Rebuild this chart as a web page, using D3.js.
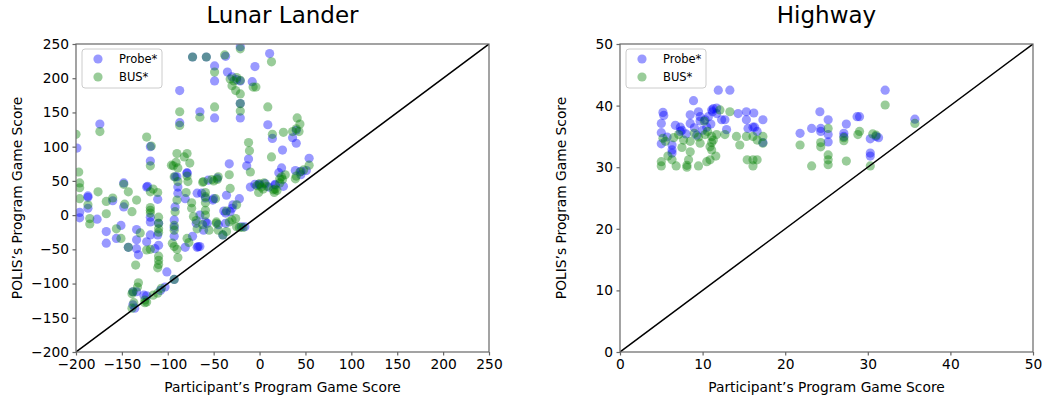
<!DOCTYPE html>
<html>
<head>
<meta charset="utf-8">
<script src="https://cdn.jsdelivr.net/npm/d3@7"></script>
<style>
  body { margin: 0; background: #fff; }
  text { font-family: "DejaVu Sans", sans-serif; fill: #000; }
</style>
</head>
<body>
<svg id="chart" width="1043" height="400"></svg>
<script>
// Lunar Lander: [participant score, POLIS score]
var lunarProbe = [
  [-199, 98], [-174, 133], [-87, 182], [-87, 135], [-65, 151], [-73, 231], [-58, 231], [-49, 218],
  [-49, 196], [-49, 142], [-37, 232], [-21, 246], [-35, 209], [-30, 202], [-25, 198], [-21, 196],
  [-8, 195], [-5, 217], [11, 236], [-21, 163], [-21, 142], [9, 132], [14, 112], [-119, 100],
  [-119, 79], [-79, 62], [-12, 82], [-14, 72], [-33, 75], [-56, 51], [-148, 47], [-187, 28],
  [-123, 41], [-92, 56], [-68, 32], [-1, 45], [10, 41], [17, 44], [-10, 41], [25, 95],
  [40, 124], [36, 113], [40, 105], [54, 83], [24, 69], [21, 62], [26, 42], [17, 45],
  [39, 65], [45, 64], [51, 65], [45, 59], [6, 46], [0, 44], [-196, 4], [-196, -4],
  [-187, 26], [-187, 10], [-177, -6], [-167, -24], [-167, -41], [-160, 21], [-151, -15], [-156, -34],
  [-148, 12], [-134, -21], [-134, -36], [-143, -47], [-134, -49], [-132, -58], [-122, 42], [-111, 23],
  [-119, -3], [-119, -10], [-110, -12], [-111, -29], [-119, -29], [-110, -44], [-123, -39], [-114, -49],
  [-101, -83], [-93, -94], [-138, -112], [-134, -112], [-138, -131], [-136, -136], [-126, -117], [-123, -118],
  [-103, -105], [-108, -110], [-90, 56], [-89, 41], [-89, 32], [-92, 12], [-93, -7], [-93, -18],
  [-93, -31], [-81, -47], [-68, -47], [-67, -46], [-79, 61], [-81, 24], [-69, -12], [-73, -31],
  [-59, -10], [-61, -22], [-59, 25], [-46, 54], [-50, 24], [-45, -14], [-39, 6], [-37, 3],
  [-40, -29], [-29, 15], [-36, 29], [-37, -12], [-32, 5], [-30, 10], [-22, 24], [-5, 45],
  [-20, -17], [-65, -46], [-63, 32], [-65, 0], [-51, 22], [-57, -12], [-16, -17]
];
var lunarBus = [
  [-200, 118], [-174, 122], [-87, 151], [-87, 131], [-65, 143], [-73, 231], [-58, 231], [-49, 209],
  [-49, 158], [-38, 234], [-21, 243], [-32, 199], [-28, 196], [-25, 201], [-21, 197], [-30, 189],
  [-26, 182], [-21, 177], [-7, 187], [-4, 187], [-21, 163], [-21, 152], [9, 158], [13, 224],
  [14, 118], [26, 121], [13, 85], [-123, 114], [-118, 101], [-90, 90], [-79, 90], [-82, 85],
  [-119, 72], [-94, 72], [-89, 69], [-76, 76], [-12, 106], [-11, 94], [-33, 59], [-62, 48],
  [-45, 56], [-52, 52], [-148, 45], [-143, 34], [-197, 63], [-196, 40], [-176, 34], [-160, 25],
  [-196, 47], [-196, 24], [-185, -5], [-185, -13], [-187, 15], [-167, 2], [-167, 20], [-156, -20],
  [-151, -34], [-147, 16], [-139, 5], [-134, 22], [-130, -26], [-143, -47], [-135, -73], [-119, 34],
  [-116, 38], [-111, 33], [-119, 11], [-119, 7], [-119, 3], [-110, -3], [-110, -12], [-110, -20],
  [-110, -25], [-123, -51], [-119, -50], [-110, -60], [-110, -66], [-110, -72], [-111, -77], [-93, -94],
  [-132, -99], [-133, -105], [-138, -112], [-139, -115], [-139, -136], [-137, -128], [-125, -124], [-125, -128],
  [-123, -127], [-116, -117], [-111, -114], [-107, -107], [-96, 73], [-91, 77], [-89, 49], [-93, 56],
  [-90, 22], [-92, 5], [-93, -15], [-93, -22], [-95, -41], [-93, -46], [-90, -50], [-89, -62],
  [-79, -34], [-77, -40], [-79, 57], [-78, 49], [-80, 33], [-74, 18], [-74, 10], [-72, -2],
  [-69, -8], [-68, -20], [-61, 49], [-59, 33], [-59, 27], [-59, 18], [-59, 7], [-59, 0],
  [-62, -14], [-55, -22], [-50, 50], [-46, 52], [-48, 24], [-47, -10], [-36, 6], [-33, -10],
  [-40, -29], [-36, -24], [-30, -7], [-47, -12], [-25, -17], [-22, -18], [-18, -18], [-32, 39],
  [-25, 15], [-26, -5], [-10, 63], [-3, 43], [2, 41], [0, 46], [5, 47], [8, 42],
  [17, 38], [-1, 33], [4, 38], [16, 33], [19, 36], [25, 52], [24, 56], [28, 59],
  [22, 47], [22, 53], [15, 37], [41, 142], [44, 133], [40, 126], [43, 122], [36, 122],
  [39, 53], [44, 63], [48, 66], [54, 73], [40, 57], [-45, -22]
];

// Highway
var highwayProbe = [
  [11.9, 42.5], [13.3, 42.5], [8.9, 40.8], [5.2, 38.9], [5.3, 38.4], [5.0, 37.1], [5.0, 35.6], [5.0, 33.8],
  [6.3, 33.6], [6.3, 32.8], [6.3, 32.3], [6.7, 36.8], [7.3, 36.5], [7.5, 36.0], [7.3, 35.8], [8.5, 37.1],
  [8.5, 38.5], [9.5, 39.0], [9.7, 38.2], [9.7, 37.5], [10.3, 37.7], [10.7, 38.2], [11.1, 39.3], [11.3, 39.5],
  [11.7, 39.6], [11.7, 38.7], [11.2, 39.0], [12.3, 37.7], [12.7, 37.7], [12.9, 36.1], [14.3, 38.7], [15.3, 39.0],
  [15.3, 37.7], [15.5, 36.3], [16.2, 38.8], [16.3, 36.5], [16.1, 36.5], [16.6, 35.8], [17.3, 37.7], [17.3, 34.0],
  [9.0, 36.4], [10.0, 36.0], [8.0, 35.4], [5.7, 34.9], [24.2, 39.0], [23.2, 36.3], [21.8, 35.5], [24.3, 35.8],
  [24.3, 36.3], [25.2, 37.7], [25.2, 35.3], [25.2, 34.1], [27.4, 37.0], [27.1, 35.0], [27.1, 35.5], [28.7, 38.2],
  [29.0, 38.2], [30.3, 34.6], [31.0, 35.0], [31.3, 34.8], [30.3, 32.3], [30.3, 31.8], [32.1, 42.5], [35.7, 37.8],
  [11.0, 37.0], [10.5, 36.5], [9.3, 35.2]
];
var highwayBus = [
  [5.0, 30.2], [5.0, 30.9], [5.2, 34.7], [5.5, 34.2], [6.3, 31.2], [5.8, 31.8], [6.8, 30.2], [8.1, 30.0],
  [8.1, 30.3], [8.3, 31.2], [9.5, 30.2], [10.5, 30.9], [10.9, 31.2], [11.6, 31.8], [15.4, 31.2], [16.1, 31.2],
  [16.1, 30.2], [16.6, 31.2], [7.1, 35.3], [7.7, 34.4], [8.5, 34.2], [9.5, 34.9], [9.7, 33.9], [10.3, 35.3],
  [10.9, 33.3], [11.1, 32.8], [11.1, 34.0], [11.1, 35.0], [11.3, 34.4], [11.7, 35.3], [12.7, 35.3], [14.1, 35.0],
  [14.5, 33.6], [15.3, 35.0], [16.1, 35.0], [16.6, 34.4], [17.3, 35.0], [17.3, 33.9], [13.3, 39.0], [12.1, 39.3],
  [6.5, 34.8], [7.5, 33.2], [8.5, 32.5], [9.0, 35.5], [10.6, 35.8], [21.8, 33.6], [24.3, 33.3], [24.3, 34.0],
  [23.2, 30.2], [25.2, 36.3], [25.2, 32.0], [25.2, 31.2], [25.2, 30.4], [27.1, 34.3], [27.1, 34.8], [27.4, 31.0],
  [28.8, 35.3], [29.0, 35.8], [30.6, 35.4], [31.0, 35.2], [30.3, 30.2], [32.1, 40.1], [35.7, 37.1], [10.2, 37.5]
];

var lunarTicks = [-200, -150, -100, -50, 0, 50, 100, 150, 200, 250];
var highwayTicks = [0, 10, 20, 30, 40, 50];

var svg = d3.select("#chart");
var fmt = function(d) { return d < 0 ? "\u2212" + Math.abs(d) : String(d); };

function drawPanel(opts) {
    var x = d3.scaleLinear().domain(opts.domain).range([opts.left, opts.left + 413]);
    var y = d3.scaleLinear().domain(opts.domain).range([352, 44]);
    var g = svg.append("g");

    g.append("clipPath").attr("id", opts.id)
      .append("rect")
        .attr("x", x.range()[0]).attr("y", 44)
        .attr("width", 413).attr("height", 308);

    var pts = g.append("g").attr("clip-path", "url(#" + opts.id + ")");
    pts.selectAll("circle.probe")
      .data(opts.probe)
      .enter().append("circle")
        .attr("cx", function(d) { return x(d[0]); })
        .attr("cy", function(d) { return y(d[1]); })
        .attr("r", 4.6)
        .style("fill", "blue")
        .style("fill-opacity", 0.4);
    pts.selectAll("circle.bus")
      .data(opts.bus)
      .enter().append("circle")
        .attr("cx", function(d) { return x(d[0]); })
        .attr("cy", function(d) { return y(d[1]); })
        .attr("r", 4.6)
        .style("fill", "green")
        .style("fill-opacity", 0.4);

    // y = x reference line
    pts.append("line")
        .attr("x1", x(opts.domain[0])).attr("y1", y(opts.domain[0]))
        .attr("x2", x(opts.domain[1])).attr("y2", y(opts.domain[1]))
        .style("stroke", "black")
        .style("stroke-width", 1.5);

    // frame
    g.append("rect")
        .attr("x", x.range()[0]).attr("y", 44)
        .attr("width", 413).attr("height", 308)
        .style("fill", "none")
        .style("stroke", "#666")
        .style("stroke-width", 1.2);

    var xAxis = g.append("g").attr("transform", "translate(0,352)")
        .call(d3.axisBottom(x).tickValues(opts.ticks).tickFormat(fmt).tickSize(3.5).tickPadding(3.5));
    var yAxis = g.append("g").attr("transform", "translate(" + opts.left + ",0)")
        .call(d3.axisLeft(y).tickValues(opts.ticks).tickFormat(fmt).tickSize(3.5).tickPadding(3.5));
    [xAxis, yAxis].forEach(function(a) {
        a.select(".domain").remove();
        a.selectAll(".tick line").style("stroke", "#666").style("stroke-width", 1.2);
        a.selectAll(".tick text").style("font-size", "13.8px").style("font-family", "DejaVu Sans").style("fill", "#000");
    });

    g.append("text")
        .attr("x", opts.left + 206.5).attr("y", 23)
        .attr("text-anchor", "middle")
        .style("font-size", "23px")
        .text(opts.title);
    g.append("text")
        .attr("x", opts.left + 206.5).attr("y", 392)
        .attr("text-anchor", "middle")
        .style("font-size", "13.8px")
        .text("Participant\u2019s Program Game Score");
    g.append("text")
        .attr("transform", "translate(" + (opts.left - 54) + ",198) rotate(-90)")
        .attr("text-anchor", "middle")
        .style("font-size", "13.8px")
        .text("POLIS\u2019s Program Game Score");

    // legend
    var lg = g.append("g").attr("transform", "translate(" + (opts.left + 6) + ",49)");
    lg.append("rect")
        .attr("width", 80).attr("height", 39).attr("rx", 3)
        .style("fill", "white").style("fill-opacity", 0.8)
        .style("stroke", "#ccc");
    var items = [["Probe*", "blue"], ["BUS*", "green"]];
    items.forEach(function(it, i) {
        lg.append("circle")
            .attr("cx", 16).attr("cy", 10 + i * 18).attr("r", 4.6)
            .style("fill", it[1]).style("fill-opacity", 0.4);
        lg.append("text")
            .attr("x", 37).attr("y", 14 + i * 18)
            .style("font-size", "11.5px")
            .text(it[0]);
    });
}

drawPanel({ id: "clipL", left: 76, domain: [-200, 250], ticks: lunarTicks,
            probe: lunarProbe, bus: lunarBus, title: "Lunar Lander" });
drawPanel({ id: "clipR", left: 620, domain: [0, 50], ticks: highwayTicks,
            probe: highwayProbe, bus: highwayBus, title: "Highway" });
</script>
</body>
</html>
